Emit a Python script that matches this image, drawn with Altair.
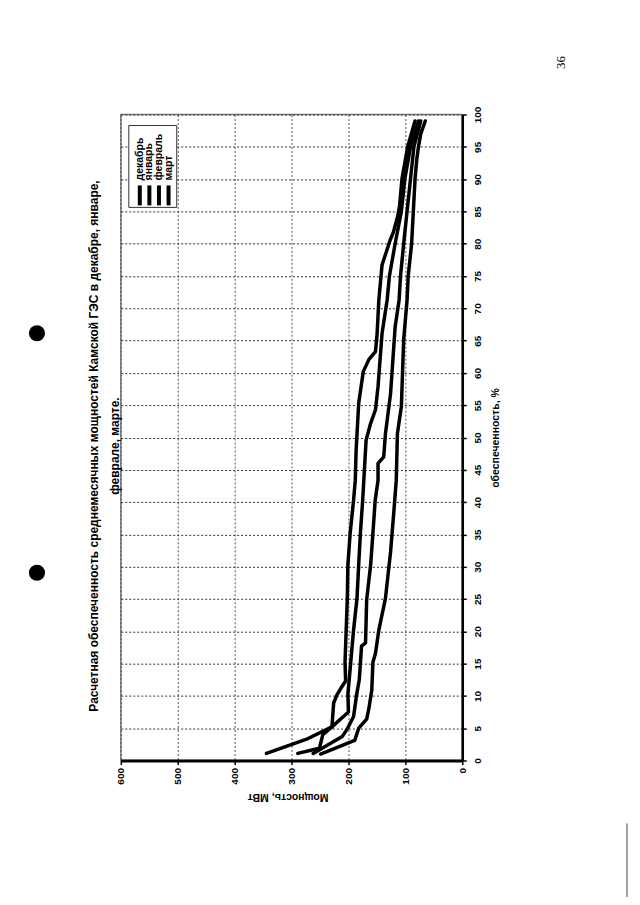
import altair as alt
import pandas as pd

FONT = "Liberation Sans"

months = ["декабрь", "январь", "февраль", "март"]

dec_q = [1.1, 1.9, 4.0, 5.2, 8.9, 10.2, 11.5, 12.3, 15.2, 20.2, 25.1, 30.3, 35.2, 40.3, 43.4, 48.1, 55.3,
         60.2, 62.1, 63.3, 66.1, 71.3, 76.7, 80.5, 81.8, 84.4, 86.0, 90.0, 95.0, 99.0]
dec_p = [289, 251, 245, 229, 226, 220, 211, 205, 206, 204, 202, 201, 197, 191, 188, 186.5, 182,
         174, 164, 152.5, 149.6, 146.6, 141, 127, 121, 113, 110, 106, 96, 83]

jan_q = [1.1, 3.4, 5.2, 7.5, 10.3, 15.2, 20.2, 25.1, 30.3, 35.2, 40.3, 43.4, 49.6, 52.2, 54.3, 57.9,
         66.1, 71.3, 75.0, 80.0, 85.0, 90.0, 95.0, 99.0]
jan_p = [344, 271, 229, 200, 201, 196, 191, 185, 182, 179, 175, 173, 169, 161, 152.5, 148,
         141, 132, 128, 118, 107, 101, 91, 77]

feb_q = [1.1, 3.7, 4.9, 6.8, 10.0, 12.5, 17.7, 18.2, 24.9, 30.3, 35.2, 40.3, 43.4, 46.0, 47.0, 50.6,
         56.8, 67.1, 71.3, 75.0, 80.0, 85.0, 90.0, 95.0, 99.0]
feb_p = [262, 211, 202, 191, 186, 181, 177, 170, 168, 161, 157, 153, 148, 148, 138, 135,
         126, 118, 111, 108.5, 103, 97, 91, 85, 73]

mar_q = [1.0, 3.1, 5.0, 6.4, 8.1, 10.9, 15.2, 16.6, 20.2, 25.1, 32.3, 38.8, 43.4, 50.6, 54.8, 65.1,
         71.3, 75.0, 80.0, 85.0, 90.0, 93.0, 95.0, 97.0, 99.0]
mar_p = [249, 189, 182, 168, 164, 159, 157, 152.5, 146.6, 135, 126, 120, 116, 114, 107, 103,
         97, 95, 89, 86, 83, 80, 77, 73, 65]

power_ticks = [0, 100, 200, 300, 400, 500, 600]
pct_ticks = list(range(0, 101, 5))

title_lines = ["Расчетная обеспеченность среднемесячных мощностей Камской ГЭС в декабре, январе,",
               "феврале, марте."]
x_title = "Мощность, МВт"
y_title = "обеспеченность, %"
page_no = ["36"]

rows = []
for m, qs, ps in zip(months, [dec_q, jan_q, feb_q, mar_q], [dec_p, jan_p, feb_p, mar_p]):
    for q, p in zip(qs, ps):
        rows.append({"month": m, "q": q, "p": p})
df = pd.DataFrame(rows)

W, H = 342, 647

lines = alt.Chart(df).mark_line(
    color="black", strokeWidth=3.5, strokeJoin="round", strokeCap="round"
).encode(
    x=alt.X("p:Q",
            scale=alt.Scale(domain=[0, 600], reverse=True, nice=False),
            axis=alt.Axis(values=power_ticks, orient="bottom", format="d",
                          labelAngle=270, labelAlign="right", labelBaseline="middle",
                          labelFont=FONT, labelFontSize=10, labelFontWeight="bold",
                          labelColor="black", labelPadding=3,
                          domainColor="black", domainWidth=3,
                          tickColor="black", tickSize=4, tickWidth=1.5,
                          grid=True, gridColor="#555", gridDash=[2, 2], gridWidth=1,
                          title=x_title, titleAngle=180, titleFont=FONT, titleFontSize=10.5,
                          titleFontWeight="bold", titleColor="black",
                          titleX=W / 2 - 4, titleY=36, titleAlign="center",
                          titleBaseline="middle")),
    y=alt.Y("q:Q",
            scale=alt.Scale(domain=[0, 100], nice=False),
            axis=alt.Axis(values=pct_ticks, orient="right", format="d",
                          labelAngle=270, labelAlign="center", labelBaseline="top",
                          labelFont=FONT, labelFontSize=10, labelFontWeight="bold",
                          labelColor="black", labelPadding=6,
                          domainColor="black", domainWidth=2.5,
                          tickColor="black", tickSize=4, tickWidth=1.5,
                          grid=True, gridColor="#333", gridDash=[2, 2], gridWidth=1,
                          title=y_title, titleAngle=270, titleFont=FONT, titleFontSize=10.5,
                          titleFontWeight="bold", titleColor="black",
                          titleX=33, titleY=H / 2, titleAlign="center",
                          titleBaseline="middle")),
    detail="month:N",
    order="q:Q",
)

one = pd.DataFrame({"k": [0]})

legend_box = alt.Chart(one).mark_rect(fill="white", stroke="#333", strokeWidth=1).encode(
    x=alt.value(8), x2=alt.value(56), y=alt.value(11), y2=alt.value(93)
)

layers = [lines, legend_box]
for i, m in enumerate(months):
    cx = 19 + i * 9.6
    mdf = pd.DataFrame({"month": [m]})
    layers.append(
        alt.Chart(mdf).mark_text(angle=270, align="left", baseline="middle",
                                 font=FONT, fontSize=10.5, fontWeight="bold", color="black").encode(
            text="month:N", x=alt.value(cx), y=alt.value(66)
        )
    )
    layers.append(
        alt.Chart(mdf).mark_rule(color="black", strokeWidth=4).encode(
            x=alt.value(cx), y=alt.value(71), y2=alt.value(91)
        )
    )

for i, t in enumerate(title_lines):
    layers.append(
        alt.Chart(pd.DataFrame({"t": [t]})).mark_text(
            angle=270, align="center", baseline="middle",
            font=FONT, fontSize=12, fontWeight="bold", color="black"
        ).encode(text="t:N", x=alt.value(-27 + i * 21), y=alt.value(332))
    )

layers.append(
    alt.Chart(pd.DataFrame({"t": page_no})).mark_text(
        angle=270, align="center", baseline="middle",
        font="Liberation Serif", fontSize=13, color="black"
    ).encode(text="t:N", x=alt.value(441), y=alt.value(-52))
)

for yy in [219, 459]:
    layers.append(
        alt.Chart(one).mark_point(filled=True, color="black", opacity=1, size=260, shape="circle").encode(
            x=alt.value(-84), y=alt.value(yy)
        )
    )

# scan edge artefact at the lower right of the page
layers.append(
    alt.Chart(one).mark_rule(color="#444", strokeWidth=1).encode(
        x=alt.value(507), y=alt.value(710), y2=alt.value(790)
    )
)

chart = alt.layer(*layers).properties(
    width=W, height=H,
    autosize=alt.AutoSizeParams(type="none"),
    padding={"left": 113, "top": 106, "right": 170, "bottom": 136},
    background="white",
).configure_view(stroke="#777", strokeWidth=1.5)

chart.save("out.html", embed_options={"renderer": "svg", "actions": False})
